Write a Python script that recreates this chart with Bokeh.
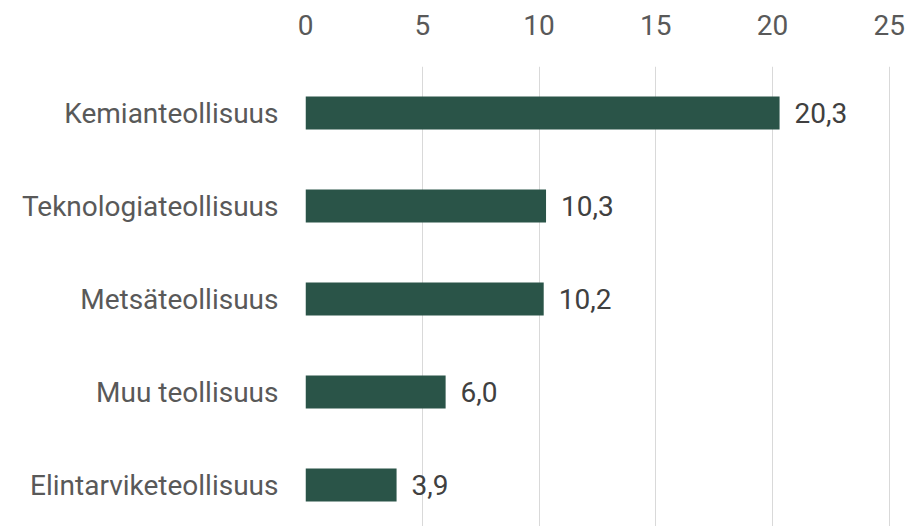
from bokeh.plotting import figure
from bokeh.models import ColumnDataSource, Range1d, FixedTicker
from bokeh.core.properties import value
from bokeh.embed import file_html
from bokeh.resources import INLINE

categories = ["Kemianteollisuus", "Teknologiateollisuus", "Metsäteollisuus",
              "Muu teollisuus", "Elintarviketeollisuus"]
values = [20.3, 10.3, 10.2, 6.0, 3.9]
x_ticks = [0, 5, 10, 15, 20, 25]

FONT = "Roboto"
FS = "28px"
n = len(categories)
ypos = [n - 1 - i for i in range(n)]
labels = [f"{v:.1f}".replace(".", ",") for v in values]

src = ColumnDataSource(dict(y=ypos, v=values, lab=labels, cat=categories))

p = figure(width=910, height=526, output_backend="svg", toolbar_location=None,
           x_range=Range1d(0, 25.05), y_range=Range1d(-0.446, n - 0.5),
           x_axis_location="above", min_border_left=305, min_border_right=20,
           min_border_top=66, min_border_bottom=0)
p.outline_line_color = None
p.background_fill_color = "white"
p.border_fill_color = "white"

p.hbar(y="y", right="v", left=0, height=0.355, source=src,
       fill_color="#2A5448", line_color=None)
p.text(x="v", y="y", text="lab", source=src, x_offset=15,
       text_baseline="middle", text_align="left",
       text_font=value(FONT), text_font_size=FS, text_color="#404040")

xa = p.xaxis[0]
xa.ticker = FixedTicker(ticks=x_ticks)
xa.axis_line_color = None
xa.major_tick_line_color = None
xa.minor_tick_line_color = None
xa.major_label_text_font = FONT
xa.major_label_text_font_size = FS
xa.major_label_text_color = "#595959"
xa.major_label_standoff = 26

ya = p.yaxis[0]
ya.ticker = FixedTicker(ticks=ypos)
ya.major_label_overrides = {yy: c for yy, c in zip(ypos, categories)}
ya.axis_line_color = None
ya.major_tick_line_color = None
ya.minor_tick_line_color = None
ya.major_label_text_font = FONT
ya.major_label_text_font_size = FS
ya.major_label_text_color = "#595959"
ya.major_label_standoff = 21

p.xgrid.grid_line_color = "#D9D9D9"
p.xgrid.grid_line_width = 1
p.ygrid.grid_line_color = None

open("out.html", "w").write(file_html(p, INLINE))
